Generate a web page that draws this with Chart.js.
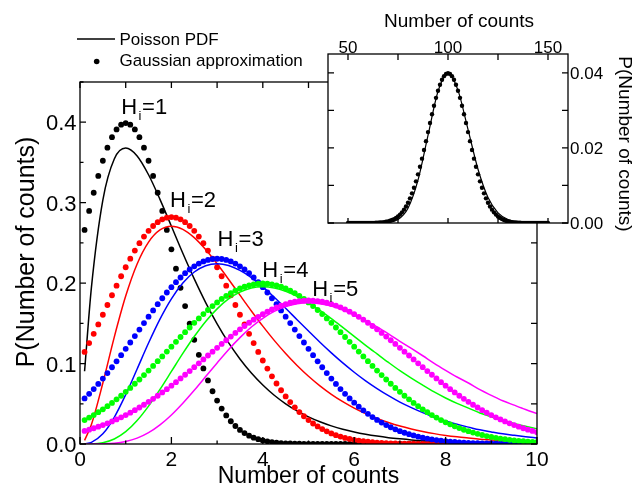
<!DOCTYPE html>
<html>
<head>
<meta charset="utf-8">
<script src="https://cdn.jsdelivr.net/npm/chart.js@4.4.1/dist/chart.umd.min.js"></script>
<style>
html,body{margin:0;padding:0;background:#fff;overflow:hidden;}
#wrap{position:relative;width:635px;height:487px;}
#main{position:absolute;left:0;top:0;}
#inset{position:absolute;left:300px;top:0;}
</style>
</head>
<body>
<div id="wrap">
<canvas id="main" width="635" height="487"></canvas>
<canvas id="inset" width="335" height="240"></canvas>
</div>
<script>
// ---------- main chart data ----------
const dotX = [0.1,0.2,0.3,0.4,0.5,0.6,0.7,0.8,0.9,1.0,
1.1,1.2,1.3,1.4,1.5,1.6,1.7,1.8,1.9,2.0,
2.1,2.2,2.3,2.4,2.5,2.6,2.7,2.8,2.9,3.0,
3.1,3.2,3.3,3.4,3.5,3.6,3.7,3.8,3.9,4.0,
4.1,4.2,4.3,4.4,4.5,4.6,4.7,4.8,4.9,5.0,
5.1,5.2,5.3,5.4,5.5,5.6,5.7,5.8,5.9,6.0,
6.1,6.2,6.3,6.4,6.5,6.6,6.7,6.8,6.9,7.0,
7.1,7.2,7.3,7.4,7.5,7.6,7.7,7.8,7.9,8.0,
8.1,8.2,8.3,8.4,8.5,8.6,8.7,8.8,8.9,9.0,
9.1,9.2,9.3,9.4,9.5,9.6,9.7,9.8,9.9,10.0];

const gauss1 = [0.2661,0.2897,0.3123,0.3332,0.3521,0.3683,0.3814,0.3910,0.3970,0.3989,
0.3970,0.3910,0.3814,0.3683,0.3521,0.3332,0.3123,0.2897,0.2661,0.2420,
0.2179,0.1942,0.1714,0.1497,0.1295,0.1109,0.0940,0.0790,0.0656,0.0540,
0.0440,0.0355,0.0283,0.0224,0.0175,0.0136,0.0104,0.0079,0.0060,0.0044,
0.0033,0.0024,0.0017,0.0012,0.0009,0.0006,0.0004,0.0003,0.0002,0.0001,
0,0,0,0,0,0,0,0,0,0,
0,0,0,0,0,0,0,0,0,0,
0,0,0,0,0,0,0,0,0,0,
0,0,0,0,0,0,0,0,0,0,
0,0,0,0,0,0,0,0,0,0];

const gauss2 = [0.1144,0.1255,0.1370,0.1487,0.1607,0.1728,0.1849,0.1968,0.2085,0.2197,
0.2304,0.2404,0.2496,0.2578,0.2650,0.2710,0.2758,0.2793,0.2814,0.2821,
0.2814,0.2793,0.2758,0.2710,0.2650,0.2578,0.2496,0.2404,0.2304,0.2197,
0.2085,0.1968,0.1849,0.1728,0.1607,0.1487,0.1370,0.1255,0.1144,0.1038,
0.0937,0.0841,0.0752,0.0668,0.0591,0.0521,0.0456,0.0397,0.0345,0.0297,
0.0255,0.0218,0.0185,0.0157,0.0132,0.0110,0.0092,0.0076,0.0063,0.0052,
0.0042,0.0034,0.0028,0.0022,0.0018,0.0014,0.0011,0.0009,0.0007,0.0005,
0.0004,0.0003,0.0003,0.0002,0.0001,0.0001,0.0001,0.0001,0,0,
0,0,0,0,0,0,0,0,0,0,
0,0,0,0,0,0,0,0,0,0];

const gauss3 = [0.0567,0.0624,0.0683,0.0747,0.0813,0.0882,0.0954,0.1028,0.1104,0.1183,
0.1262,0.1342,0.1423,0.1503,0.1583,0.1661,0.1738,0.1812,0.1883,0.1950,
0.2012,0.2070,0.2123,0.2169,0.2209,0.2243,0.2269,0.2288,0.2300,0.2303,
0.2300,0.2288,0.2269,0.2243,0.2209,0.2169,0.2123,0.2070,0.2012,0.1950,
0.1883,0.1812,0.1738,0.1661,0.1583,0.1503,0.1423,0.1342,0.1262,0.1183,
0.1104,0.1028,0.0954,0.0882,0.0813,0.0747,0.0683,0.0624,0.0567,0.0514,
0.0464,0.0418,0.0375,0.0335,0.0299,0.0266,0.0235,0.0208,0.0183,0.0160,
0.0140,0.0122,0.0106,0.0091,0.0079,0.0068,0.0058,0.0049,0.0042,0.0036,
0.0030,0.0025,0.0021,0.0018,0.0015,0.0012,0.0010,0.0008,0.0007,0.0006,
0.0005,0.0004,0.0003,0.0002,0.0002,0.0002,0.0001,0.0001,0.0001,0.0001];

const gauss4 = [0.0298,0.0328,0.0360,0.0395,0.0431,0.0470,0.0511,0.0555,0.0600,0.0648,
0.0697,0.0749,0.0802,0.0857,0.0913,0.0971,0.1030,0.1089,0.1149,0.1210,
0.1270,0.1330,0.1390,0.1448,0.1506,0.1561,0.1615,0.1666,0.1715,0.1760,
0.1803,0.1841,0.1876,0.1907,0.1933,0.1955,0.1972,0.1985,0.1992,0.1995,
0.1992,0.1985,0.1972,0.1955,0.1933,0.1907,0.1876,0.1841,0.1803,0.1760,
0.1715,0.1666,0.1615,0.1561,0.1506,0.1448,0.1390,0.1330,0.1270,0.1210,
0.1149,0.1089,0.1030,0.0971,0.0913,0.0857,0.0802,0.0749,0.0697,0.0648,
0.0600,0.0555,0.0511,0.0470,0.0431,0.0395,0.0360,0.0328,0.0298,0.0270,
0.0244,0.0220,0.0198,0.0177,0.0159,0.0142,0.0126,0.0112,0.0099,0.0088,
0.0077,0.0068,0.0060,0.0052,0.0045,0.0040,0.0034,0.0030,0.0026,0.0022];

const gauss5 = [0.0162,0.0178,0.0196,0.0215,0.0235,0.0257,0.0281,0.0306,0.0332,0.0360,
0.0390,0.0421,0.0454,0.0488,0.0524,0.0562,0.0600,0.0641,0.0682,0.0725,
0.0769,0.0815,0.0861,0.0907,0.0955,0.1003,0.1051,0.1100,0.1148,0.1196,
0.1244,0.1290,0.1336,0.1381,0.1425,0.1467,0.1507,0.1545,0.1581,0.1614,
0.1645,0.1673,0.1699,0.1721,0.1740,0.1756,0.1768,0.1777,0.1782,0.1784,
0.1782,0.1777,0.1768,0.1756,0.1740,0.1721,0.1699,0.1673,0.1645,0.1614,
0.1581,0.1545,0.1507,0.1467,0.1425,0.1381,0.1336,0.1290,0.1244,0.1196,
0.1148,0.1100,0.1051,0.1003,0.0955,0.0907,0.0861,0.0815,0.0769,0.0725,
0.0682,0.0641,0.0600,0.0562,0.0524,0.0488,0.0454,0.0421,0.0390,0.0360,
0.0332,0.0306,0.0281,0.0257,0.0235,0.0215,0.0196,0.0178,0.0162,0.0146];

const lineX = [0.1,0.25,0.5,0.75,1,1.25,1.5,1.75,2,2.25,2.5,2.75,3,3.25,3.5,3.75,4,4.25,4.5,4.75,5,
5.25,5.5,5.75,6,6.25,6.5,6.75,7,7.25,7.5,7.75,8,8.25,8.5,8.75,9,9.25,9.5,9.75,10];

const poisson1 = [0.0905,0.1947,0.3033,0.3543,0.3679,0.3581,0.3347,0.3041,0.2707,0.2371,0.2052,0.1758,0.1494,0.1260,0.1057,0.0882,0.0733,0.0606,0.0500,0.0411,0.0337,
0.0276,0.0225,0.0183,0.0149,0.0121,0.0098,0.0079,0.0064,0.0051,0.0041,0.0033,0.0027,0.0022,0.0017,0.0014,0.0011,0.0009,0.0007,0.0006,0.0005];
const poisson2 = [0.0045,0.0243,0.0758,0.1329,0.1839,0.2238,0.2510,0.2661,0.2707,0.2668,0.2565,0.2417,0.2240,0.2048,0.1850,0.1654,0.1465,0.1288,0.1125,0.0976,0.0842,
0.0723,0.0618,0.0526,0.0446,0.0377,0.0318,0.0267,0.0223,0.0187,0.0156,0.0129,0.0107,0.0089,0.0074,0.0060,0.0050,0.0041,0.0034,0.0028,0.0023];
const poisson3 = [0.0002,0.0020,0.0126,0.0332,0.0613,0.0933,0.1255,0.1552,0.1804,0.2001,0.2138,0.2216,0.2240,0.2219,0.2158,0.2068,0.1953,0.1825,0.1687,0.1545,0.1404,
0.1265,0.1133,0.1008,0.0892,0.0785,0.0689,0.0601,0.0521,0.0452,0.0390,0.0333,0.0286,0.0245,0.0210,0.0176,0.0150,0.0126,0.0108,0.0091,0.0076];
const poisson4 = [0,0.0001,0.0016,0.0062,0.0153,0.0292,0.0471,0.0679,0.0902,0.1126,0.1336,0.1524,0.1680,0.1803,0.1888,0.1939,0.1954,0.1939,0.1898,0.1835,0.1755,
0.1660,0.1558,0.1449,0.1338,0.1227,0.1120,0.1014,0.0912,0.0819,0.0731,0.0647,0.0572,0.0505,0.0446,0.0386,0.0337,0.0291,0.0254,0.0220,0.0189];
const poisson5 = [0,0,0.0002,0.0009,0.0031,0.0073,0.0141,0.0238,0.0361,0.0507,0.0668,0.0838,0.1008,0.1172,0.1322,0.1454,0.1563,0.1648,0.1708,0.1743,0.1755,
0.1743,0.1714,0.1666,0.1606,0.1534,0.1456,0.1369,0.1277,0.1188,0.1097,0.1003,0.0916,0.0833,0.0758,0.0675,0.0605,0.0538,0.0483,0.0429,0.0378];

const seriesNames = ['1','2','3','4','5'];
const mainXTickLabels = [0,2,4,6,8,10];
const mainYTickLabels = [0,0.1,0.2,0.3,0.4];
const mainXTickMarks = [0,1,2,3,4,5,6,7,8,9,10];
const mainYTickMarks = [0,0.05,0.1,0.15,0.2,0.25,0.3,0.35,0.4,0.45];
// annotation anchors (data space) for the H_i labels
const labelAnchorX = [0.9,1.97,3.01,3.99,5.08];
const labelAnchorY = [0.4097,0.2948,0.2457,0.2076,0.1834];

// ---------- inset data ----------
const insetDotX = [50,51,52,53,54,55,56,57,58,59,60,61,62,63,64,65,66,67,68,69,
70,71,72,73,74,75,76,77,78,79,80,81,82,83,84,85,86,87,88,89,
90,91,92,93,94,95,96,97,98,99,100,101,102,103,104,105,106,107,108,109,
110,111,112,113,114,115,116,117,118,119,120,121,122,123,124,125,126,127,128,129,
130,131,132,133,134,135,136,137,138,139,140,141,142,143,144,145,146,147,148,149,150];
const insetGauss = [0,0,0,0,0,0,0,0,0,0,
0.00001,0.00002,0.00003,0.00004,0.00006,0.00009,0.00012,0.00017,0.00024,0.00033,
0.00044,0.00060,0.00079,0.00104,0.00136,0.00175,0.00224,0.00283,0.00355,0.00440,
0.00540,0.00656,0.00790,0.00940,0.01109,0.01295,0.01497,0.01714,0.01942,0.02179,
0.02420,0.02661,0.02897,0.03123,0.03332,0.03521,0.03683,0.03814,0.03910,0.03970,
0.03989,
0.03970,0.03910,0.03814,0.03683,0.03521,0.03332,0.03123,0.02897,0.02661,0.02420,
0.02179,0.01942,0.01714,0.01497,0.01295,0.01109,0.00940,0.00790,0.00656,0.00540,
0.00440,0.00355,0.00283,0.00224,0.00175,0.00136,0.00104,0.00079,0.00060,0.00044,
0.00033,0.00024,0.00017,0.00012,0.00009,0.00006,0.00004,0.00003,0.00002,0.00001,
0,0,0,0,0,0,0,0,0,0];
const insetLineX = [50,55,60,65,70,75,80,85,90,95,100,105,110,115,120,125,130,135,140,145,150];
const insetPoisson = [0,0,0,0.0000124,0.000138,0.000920,0.003939,0.011399,0.023322,0.035025,0.03986,
0.035319,0.024939,0.014319,0.006805,0.002718,0.000924,0.000271,0.0000694,0.0000156,0.0000031];
const insetXTickLabels = [50,100,150];
const insetYTickLabels = [0,0.02,0.04];
const insetXTickMarks = [50,75,100,125,150];
const insetYTickMarks = [0,0.01,0.02,0.03,0.04];

// ---------- styles ----------
const FONT = 'Liberation Sans, Arial, sans-serif';
const colors = ['#000000','#ff0000','#0000ff','#00ff00','#ff00ff'];
const gaussSeries = [gauss1,gauss2,gauss3,gauss4,gauss5];
const poissonSeries = [poisson1,poisson2,poisson3,poisson4,poisson5];

const datasets = [];
for (let i = 0; i < 5; i++) {
  datasets.push({
    label: 'Poisson PDF H=' + seriesNames[i],
    data: lineX.map((x, j) => ({x: x, y: poissonSeries[i][j]})),
    showLine: true, pointRadius: 0, borderColor: colors[i], borderWidth: 1.5,
    cubicInterpolationMode: 'monotone', clip: 0, order: 100 - 2 * i
  });
  datasets.push({
    label: 'Gaussian approximation H=' + seriesNames[i],
    data: dotX.map((x, j) => ({x: x, y: gaussSeries[i][j]})),
    showLine: false, pointRadius: 2.9, pointBorderWidth: 0,
    pointBackgroundColor: colors[i], backgroundColor: colors[i], borderColor: colors[i],
    clip: 0, order: 99 - 2 * i
  });
}

function tickMark(ctx, x1, y1, x2, y2) { ctx.moveTo(x1, y1); ctx.lineTo(x2, y2); }

const mainDecor = {
  id: 'mainDecor',
  afterDraw(chart) {
    const {ctx, chartArea: a, scales: {x, y}} = chart;
    ctx.save();
    ctx.strokeStyle = '#000';
    ctx.lineWidth = 1.3;
    ctx.strokeRect(a.left, a.top, a.right - a.left, a.bottom - a.top);
    ctx.beginPath();
    mainXTickMarks.forEach(v => {
      const px = x.getPixelForValue(v);
      const len = mainXTickLabels.includes(v) ? 7 : 3.5;
      tickMark(ctx, px, a.bottom, px, a.bottom - len);
      tickMark(ctx, px, a.top, px, a.top + 6);
    });
    mainYTickMarks.forEach(v => {
      const py = y.getPixelForValue(v);
      const major = mainYTickLabels.some(t => Math.abs(t - v) < 1e-9);
      tickMark(ctx, a.left, py, a.left + (major ? 6 : 3.5), py);
      tickMark(ctx, a.right, py, a.right - 6, py);
    });
    ctx.stroke();

    ctx.fillStyle = '#000';
    ctx.textBaseline = 'alphabetic';
    // tick labels
    ctx.font = '21px ' + FONT;
    ctx.textAlign = 'center';
    mainXTickLabels.forEach(v => ctx.fillText(String(v), x.getPixelForValue(v), a.bottom + 21.5));
    ctx.font = '22px ' + FONT;
    ctx.textAlign = 'right';
    mainYTickLabels.forEach(v => ctx.fillText(v.toFixed(1), a.left - 3.5, y.getPixelForValue(v) + 8));

    // axis titles
    ctx.font = '23px ' + FONT;
    ctx.textAlign = 'center';
    ctx.fillText('Number of counts', (a.left + a.right) / 2, 483);
    ctx.save();
    ctx.font = '25px ' + FONT;
    ctx.translate(34, 252);
    ctx.rotate(-Math.PI / 2);
    ctx.fillText('P(Number of counts)', 0, 0);
    ctx.restore();

    // legend
    ctx.lineWidth = 1.5;
    ctx.beginPath();
    ctx.moveTo(77, 39); ctx.lineTo(115, 39);
    ctx.stroke();
    ctx.beginPath();
    ctx.arc(96.7, 61.5, 2.8, 0, Math.PI * 2);
    ctx.fill();
    ctx.font = '17px ' + FONT;
    ctx.textAlign = 'left';
    ctx.fillText('Poisson PDF', 119.5, 45);
    ctx.fillText('Gaussian approximation', 119.5, 66);

    // H_i labels
    for (let i = 0; i < 5; i++) {
      const px = x.getPixelForValue(labelAnchorX[i]);
      const py = y.getPixelForValue(labelAnchorY[i]);
      ctx.font = '22px ' + FONT;
      ctx.fillText('H', px, py);
      const wH = ctx.measureText('H').width;
      ctx.font = '13px ' + FONT;
      const iX = px + wH + 1.5;
      ctx.fillText('i', iX, py + 6);
      const wi = ctx.measureText('i').width;
      ctx.font = '22px ' + FONT;
      ctx.fillText('=' + seriesNames[i], iX + wi + 0.7, py);
    }
    ctx.restore();
  }
};

new Chart(document.getElementById('main'), {
  type: 'scatter',
  data: {datasets: datasets},
  options: {
    responsive: false, animation: false, events: [],
    layout: {padding: {left: 0, top: 82, right: 98, bottom: 0}},
    plugins: {legend: {display: false}, tooltip: {enabled: false}},
    scales: {
      x: {
        type: 'linear', position: 'bottom', min: 0, max: 10,
        afterFit(s) { s.height = 43; },
        afterBuildTicks(s) { s.ticks = mainXTickLabels.map(v => ({value: v})); },
        grid: {display: false}, border: {display: false},
        ticks: {display: false}
      },
      y: {
        type: 'linear', position: 'left', min: 0, max: 0.45,
        afterFit(s) { s.width = 80; },
        afterBuildTicks(s) { s.ticks = mainYTickLabels.map(v => ({value: v})); },
        grid: {display: false}, border: {display: false},
        ticks: {display: false}
      }
    }
  },
  plugins: [mainDecor]
});

// ---------- inset ----------
const insetDecor = {
  id: 'insetDecor',
  beforeDraw(chart) {
    const {ctx, chartArea: a} = chart;
    ctx.save();
    ctx.fillStyle = '#fff';
    ctx.fillRect(a.left, a.top, a.right - a.left, a.bottom - a.top);
    ctx.restore();
  },
  afterDraw(chart) {
    const {ctx, chartArea: a, scales: {x, y}} = chart;
    ctx.save();
    ctx.strokeStyle = '#000';
    ctx.lineWidth = 1.3;
    ctx.strokeRect(a.left, a.top, a.right - a.left, a.bottom - a.top);
    ctx.beginPath();
    insetXTickMarks.forEach(v => {
      const px = x.getPixelForValue(v);
      tickMark(ctx, px, a.top, px, a.top + 6);
      tickMark(ctx, px, a.bottom, px, a.bottom - 5);
    });
    insetYTickMarks.forEach(v => {
      const py = y.getPixelForValue(v);
      tickMark(ctx, a.left, py, a.left + 6, py);
      tickMark(ctx, a.right, py, a.right - 6, py);
    });
    ctx.stroke();
    ctx.fillStyle = '#000';
    ctx.textBaseline = 'alphabetic';
    ctx.font = '17px ' + FONT;
    ctx.textAlign = 'center';
    insetXTickLabels.forEach(v => ctx.fillText(String(v), x.getPixelForValue(v), a.top - 0.8));
    ctx.textAlign = 'left';
    insetYTickLabels.forEach(v => ctx.fillText(v.toFixed(2), a.right + 2, y.getPixelForValue(v) + 6.1));
    ctx.font = '19px ' + FONT;
    ctx.textAlign = 'center';
    ctx.fillText('Number of counts', 159, 26.5);
    ctx.save();
    ctx.translate(318.5, 144);
    ctx.rotate(Math.PI / 2);
    ctx.fillText('P(Number of counts)', 0, 0);
    ctx.restore();
    ctx.restore();
  }
};

new Chart(document.getElementById('inset'), {
  type: 'scatter',
  data: {datasets: [
    {label: 'Poisson PDF H=100', data: insetLineX.map((x, j) => ({x: x, y: insetPoisson[j]})),
     showLine: true, pointRadius: 0, borderColor: '#000', borderWidth: 1.2,
     cubicInterpolationMode: 'monotone', clip: 0, order: 2},
    {label: 'Gaussian approximation H=100', data: insetDotX.map((x, j) => ({x: x, y: insetGauss[j]})),
     showLine: false, pointRadius: 2.2, pointBorderWidth: 0, pointBackgroundColor: '#000',
     backgroundColor: '#000', borderColor: '#000', clip: 0, order: 1}
  ]},
  options: {
    responsive: false, animation: false, events: [],
    layout: {padding: {left: 28, top: 0, right: 0, bottom: 17}},
    plugins: {legend: {display: false}, tooltip: {enabled: false}},
    scales: {
      x: {
        type: 'linear', position: 'top', min: 40, max: 160,
        afterFit(s) { s.height = 54; },
        afterBuildTicks(s) { s.ticks = insetXTickLabels.map(v => ({value: v})); },
        grid: {display: false}, border: {display: false},
        ticks: {display: false}
      },
      y: {
        type: 'linear', position: 'right', min: 0, max: 0.045,
        afterFit(s) { s.width = 67; },
        afterBuildTicks(s) { s.ticks = insetYTickLabels.map(v => ({value: v})); },
        grid: {display: false}, border: {display: false},
        ticks: {display: false}
      }
    }
  },
  plugins: [insetDecor]
});
</script>
</body>
</html>
